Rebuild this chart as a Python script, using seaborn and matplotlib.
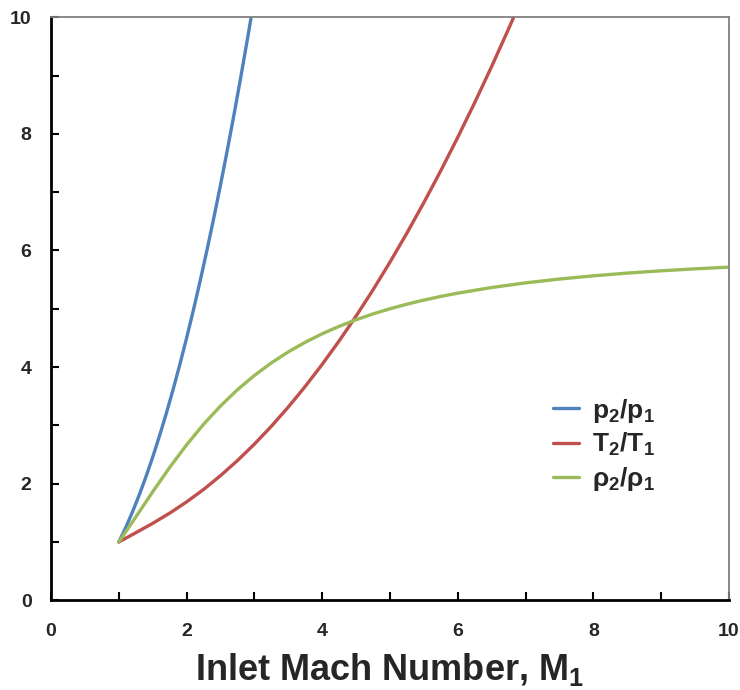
# Normal shock ratios vs inlet Mach number
import numpy as np
import pandas as pd
import matplotlib
matplotlib.use("Agg")
import matplotlib.pyplot as plt
from matplotlib.ticker import MultipleLocator
import seaborn as sns

# pressure ratio p2/p1
mach_p = [1.0, 1.1, 1.2, 1.3, 1.4, 1.5, 1.6, 1.7, 1.8, 1.9, 2.0,
          2.1, 2.2, 2.3, 2.4, 2.5, 2.6, 2.7, 2.8, 2.9, 3.0]
p_ratio = [1.0, 1.245, 1.513, 1.805, 2.12, 2.458, 2.82, 3.205, 3.613, 4.045, 4.5,
           4.978, 5.48, 6.005, 6.553, 7.125, 7.72, 8.338, 8.98, 9.645, 10.333]

# temperature ratio T2/T1
mach_t = [1.0, 1.25, 1.5, 1.75, 2.0, 2.25, 2.5, 2.75, 3.0, 3.25, 3.5, 3.75,
          4.0, 4.25, 4.5, 4.75, 5.0, 5.25, 5.5, 5.75, 6.0, 6.25, 6.5, 6.75, 7.0]
t_ratio = [1.0, 1.159, 1.320, 1.495, 1.688, 1.901, 2.138, 2.397, 2.679, 2.985,
           3.315, 3.669, 4.047, 4.449, 4.875, 5.325, 5.8, 6.299, 6.822, 7.369,
           7.941, 8.536, 9.156, 9.801, 10.469]

# density ratio rho2/rho1
mach_r = [1.0, 1.25, 1.5, 1.75, 2.0, 2.25, 2.5, 2.75, 3.0, 3.25, 3.5, 3.75,
          4.0, 4.25, 4.5, 4.75, 5.0, 5.25, 5.5, 5.75, 6.0, 6.5, 7.0, 7.5,
          8.0, 8.5, 9.0, 9.5, 10.0]
r_ratio = [1.0, 1.429, 1.862, 2.279, 2.667, 3.019, 3.333, 3.612, 3.857, 4.072,
           4.261, 4.426, 4.571, 4.699, 4.812, 4.912, 5.0, 5.079, 5.149, 5.212,
           5.268, 5.365, 5.444, 5.510, 5.565, 5.612, 5.651, 5.685, 5.714]

labels = ["p$_2$/p$_1$", "T$_2$/T$_1$", "ρ$_2$/ρ$_1$"]
colors = ["#4F81BD", "#C0504D", "#9BBB59"]

df = pd.concat([
    pd.DataFrame({"M": mach_p, "ratio": p_ratio, "serie": labels[0]}),
    pd.DataFrame({"M": mach_t, "ratio": t_ratio, "serie": labels[1]}),
    pd.DataFrame({"M": mach_r, "ratio": r_ratio, "serie": labels[2]}),
])

sns.set_style("white")
plt.rcParams["font.family"] = ["Liberation Sans", "DejaVu Sans"]
plt.rcParams["font.weight"] = "bold"
plt.rcParams["mathtext.fontset"] = "custom"
plt.rcParams["mathtext.rm"] = "Liberation Sans:bold"
plt.rcParams["mathtext.it"] = "Liberation Sans:bold"
plt.rcParams["mathtext.bf"] = "Liberation Sans:bold"
plt.rcParams["mathtext.default"] = "rm"

fig = plt.figure(figsize=(7.4, 6.9), dpi=100)
ax = fig.add_axes([0.069, 0.130, 0.916, 0.845])

sns.lineplot(data=df, x="M", y="ratio", hue="serie", palette=colors,
             estimator=None, sort=True, linewidth=2.4, ax=ax)

ax.set_xlim(0, 10)
ax.set_ylim(0, 10)
ax.xaxis.set_major_locator(MultipleLocator(2))
ax.xaxis.set_minor_locator(MultipleLocator(1))
ax.yaxis.set_major_locator(MultipleLocator(2))
ax.yaxis.set_minor_locator(MultipleLocator(1))
ax.tick_params(which="both", direction="in", length=6, width=1.5,
               color="black", bottom=True, left=True, top=False, right=False)
ax.tick_params(which="major", labelsize=14)
ax.tick_params(axis="x", which="major", pad=16)
ax.tick_params(axis="y", which="major", pad=14)

for s in ["left", "bottom"]:
    ax.spines[s].set_color("black")
    ax.spines[s].set_linewidth(2)
for s in ["top", "right"]:
    ax.spines[s].set_color("#808080")
    ax.spines[s].set_linewidth(1.3)

for lab in ax.get_xticklabels() + ax.get_yticklabels():
    lab.set_fontweight("bold")

ax.set_xlabel("Inlet Mach Number, M$_1$", fontsize=26, fontweight="bold",
              labelpad=8)
ax.set_ylabel("")

leg = ax.legend(loc="upper left", bbox_to_anchor=(0.705, 0.39), frameon=False,
                fontsize=19, handlelength=1.0, labelspacing=0.25,
                handletextpad=0.5)
for t in leg.get_texts():
    t.set_fontweight("bold")

fig.savefig("out.png", dpi=100)
